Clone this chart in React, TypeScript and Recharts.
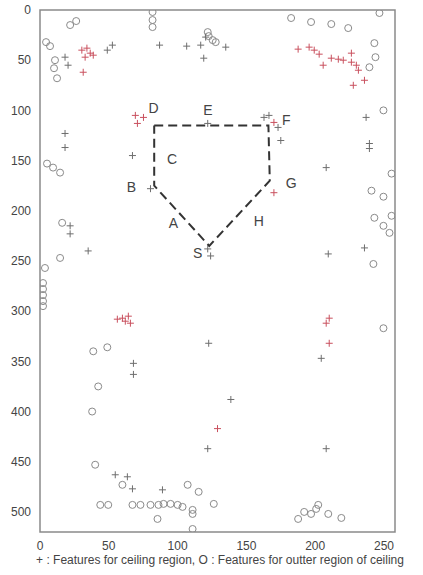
import { ScatterChart, Scatter, XAxis, YAxis, ReferenceArea } from 'recharts'

// features for ceiling region (drawn red)
const redPlus = [
  { x: 30.4, y: 40 }, { x: 34.1, y: 38 }, { x: 36.5, y: 43 }, { x: 38.7, y: 45 }, { x: 32.8, y: 47 },
  { x: 31.4, y: 62 }, { x: 187.6, y: 39 }, { x: 195.6, y: 37 }, { x: 199.3, y: 40 }, { x: 202.9, y: 44 },
  { x: 205.8, y: 55 }, { x: 211.7, y: 48 }, { x: 216.8, y: 49 }, { x: 220.4, y: 50 }, { x: 226.3, y: 43 },
  { x: 226.3, y: 52 }, { x: 229.9, y: 55 }, { x: 231.4, y: 60 }, { x: 235.8, y: 70 }, { x: 227.7, y: 75 },
  { x: 69.3, y: 105 }, { x: 70.8, y: 113 }, { x: 75.2, y: 107 }, { x: 170, y: 112 }, { x: 170, y: 182 },
  { x: 56.2, y: 308 }, { x: 59.9, y: 307 }, { x: 64.2, y: 305 }, { x: 65.7, y: 312 }, { x: 62, y: 310 },
  { x: 210.2, y: 307 }, { x: 208, y: 312 }, { x: 210.2, y: 332 }, { x: 129, y: 417 },
]

// features for ceiling region (drawn grey)
const grayPlus = [
  { x: 18.2, y: 47 }, { x: 20.4, y: 55 }, { x: 48.9, y: 40 }, { x: 52.6, y: 35 }, { x: 86.9, y: 35 },
  { x: 106.6, y: 36 }, { x: 120.4, y: 27 }, { x: 116.8, y: 35 }, { x: 135, y: 37 }, { x: 119, y: 48 },
  { x: 18.2, y: 123 }, { x: 18.2, y: 137 }, { x: 67.2, y: 145 }, { x: 80.3, y: 178 }, { x: 162.8, y: 107 },
  { x: 166.4, y: 105 }, { x: 173, y: 117 }, { x: 175, y: 130 }, { x: 121.9, y: 238 }, { x: 124, y: 245 },
  { x: 121.9, y: 113 }, { x: 21.9, y: 215 }, { x: 21.9, y: 223 }, { x: 35, y: 240 }, { x: 237, y: 107 },
  { x: 239.4, y: 133 }, { x: 239.4, y: 138 }, { x: 208, y: 157 }, { x: 209.5, y: 243 }, { x: 235.8, y: 237 },
  { x: 122.6, y: 332 }, { x: 204.4, y: 347 }, { x: 67.9, y: 352 }, { x: 67.9, y: 363 }, { x: 138.7, y: 388 },
  { x: 121.9, y: 437 }, { x: 208, y: 437 }, { x: 54.7, y: 463 }, { x: 63.5, y: 465 }, { x: 67.2, y: 477 },
  { x: 89, y: 478 },
]

// features for outer region of ceiling
const outerCircles = [
  { x: 21.9, y: 15 }, { x: 26.3, y: 11 }, { x: 4.4, y: 32 }, { x: 7.3, y: 36 }, { x: 10.9, y: 50 },
  { x: 10.2, y: 58 }, { x: 12.4, y: 68 }, { x: 81.8, y: 2 }, { x: 81.8, y: 10 }, { x: 81.8, y: 17 },
  { x: 121.9, y: 22 }, { x: 122.6, y: 26 }, { x: 125.5, y: 30 }, { x: 127.7, y: 32 }, { x: 182.5, y: 8 },
  { x: 197, y: 12 }, { x: 211.7, y: 14 }, { x: 224, y: 18 }, { x: 246.7, y: 3 }, { x: 243, y: 33 },
  { x: 243.8, y: 47 }, { x: 239.4, y: 57 }, { x: 249.6, y: 100 }, { x: 255.5, y: 163 }, { x: 240.9, y: 180 },
  { x: 249.6, y: 186 }, { x: 243, y: 207 }, { x: 255.5, y: 205 }, { x: 249.6, y: 215 }, { x: 254, y: 222 },
  { x: 242.3, y: 253 }, { x: 249.6, y: 317 }, { x: 5.1, y: 153 }, { x: 9.5, y: 157 }, { x: 14.6, y: 162 },
  { x: 16.1, y: 212 }, { x: 14.6, y: 247 }, { x: 3.6, y: 257 }, { x: 2.2, y: 272 }, { x: 2.2, y: 278 },
  { x: 2.2, y: 284 }, { x: 2.2, y: 290 }, { x: 2.2, y: 295 }, { x: 38.7, y: 340 }, { x: 48.9, y: 336 },
  { x: 42.3, y: 375 }, { x: 37.9, y: 400 }, { x: 40.1, y: 453 }, { x: 59.9, y: 473 }, { x: 43.8, y: 493 },
  { x: 49.6, y: 493 }, { x: 67.2, y: 493 }, { x: 73, y: 493 }, { x: 80.3, y: 493 }, { x: 86.1, y: 493 },
  { x: 89.8, y: 492 }, { x: 94.9, y: 492 }, { x: 100, y: 493 }, { x: 103.6, y: 495 }, { x: 85.4, y: 507 },
  { x: 107.3, y: 473 }, { x: 115.3, y: 480 }, { x: 110.9, y: 498 }, { x: 110.9, y: 502 }, { x: 110.9, y: 517 },
  { x: 126.3, y: 492 }, { x: 187.6, y: 507 }, { x: 192, y: 500 }, { x: 197, y: 502 }, { x: 200.7, y: 497 },
  { x: 202.2, y: 493 }, { x: 209.5, y: 502 }, { x: 219, y: 506 },
]

// dashed route D -> F -> G -> S -> B -> D
const routePoints = [
  { x: 83, y: 115 }, { x: 166, y: 115 }, { x: 167, y: 170 }, { x: 123, y: 235 }, { x: 83, y: 175 }, { x: 83, y: 115 },
]

const routeLabels = [
  { x: 82.5, y: 98, label: 'D' }, { x: 122, y: 100, label: 'E' }, { x: 179, y: 110, label: 'F' },
  { x: 96, y: 148, label: 'C' }, { x: 66.4, y: 176, label: 'B' }, { x: 97, y: 212, label: 'A' },
  { x: 114.6, y: 242, label: 'S' }, { x: 159, y: 210, label: 'H' }, { x: 182.5, y: 172, label: 'G' },
]

const xTicks = [0, 50, 100, 150, 200, 250]
const yTicks = [0, 50, 100, 150, 200, 250, 300, 350, 400, 450, 500]

const xDomain = [0, 258]
const yDomain = [0, 520]
const axisColor = '#8a8a8a'
const font = 'Liberation Sans, Arial, sans-serif'

const plusShape = (color: string) => (props: any) => {
  const { cx, cy } = props
  const s = 3.5
  return (
    <g stroke={color} strokeWidth={1}>
      <line x1={cx - s} x2={cx + s} y1={cy} y2={cy} />
      <line x1={cx} x2={cx} y1={cy - s} y2={cy + s} />
    </g>
  )
}

const circleShape = (props: any) => (
  <circle cx={props.cx} cy={props.cy} r={3.5} fill="none" stroke="#8a8a8a" strokeWidth={1} />
)

const labelShape = (props: any) => (
  <text x={props.cx} y={props.cy} textAnchor="middle" dominantBaseline="central" fontSize={14} fontFamily={font} fill="#444">
    {props.payload.label}
  </text>
)

export default function App() {
  const tickStyle = { fontSize: 12, fill: '#444', fontFamily: font }
  return (
    <div style={{ position: 'absolute', left: 0, top: 0, width: 423, height: 575, background: '#fff' }}>
      <ScatterChart width={423} height={575} margin={{ top: 10, right: 28, bottom: 23, left: 8 }}>
        <XAxis type="number" dataKey="x" domain={xDomain} ticks={xTicks} allowDataOverflow
          height={20} axisLine={false} tickLine={false} tickMargin={3} tick={tickStyle} />
        <XAxis xAxisId="inner" type="number" dataKey="x" domain={xDomain} ticks={xTicks} allowDataOverflow
          height={0} mirror tick={false} tickSize={4} stroke={axisColor} axisLine={false} />
        <XAxis xAxisId="top" orientation="top" type="number" dataKey="x" domain={xDomain} ticks={xTicks} allowDataOverflow
          height={0} mirror tick={false} tickSize={4} stroke={axisColor} axisLine={false} />
        <YAxis type="number" dataKey="y" domain={yDomain} ticks={yTicks} reversed allowDataOverflow
          width={32} axisLine={false} tickLine={false} tickMargin={3} tick={tickStyle} />
        <YAxis yAxisId="inner" type="number" dataKey="y" domain={yDomain} ticks={yTicks} reversed allowDataOverflow
          width={0} mirror tick={false} tickSize={4} stroke={axisColor} axisLine={false} />
        <YAxis yAxisId="right" orientation="right" type="number" dataKey="y" domain={yDomain} ticks={yTicks} reversed allowDataOverflow
          width={0} mirror tick={false} tickSize={4} stroke={axisColor} axisLine={false} />
        <ReferenceArea x1={xDomain[0]} x2={xDomain[1]} y1={yDomain[0]} y2={yDomain[1]}
          fill="none" fillOpacity={0} stroke={axisColor} strokeWidth={1.5} />
        <Scatter data={outerCircles} shape={circleShape} isAnimationActive={false} />
        <Scatter data={grayPlus} shape={plusShape('#6e6e6e')} isAnimationActive={false} />
        <Scatter data={redPlus} shape={plusShape('#c9505e')} isAnimationActive={false} />
        <Scatter
          data={routePoints}
          xAxisId="top"
          yAxisId="right"
          line={{ stroke: '#333', strokeWidth: 2, strokeDasharray: '9 5' }}
          lineType="joint"
          shape={() => <g />}
          isAnimationActive={false}
        />
        <Scatter data={routeLabels} xAxisId="inner" yAxisId="inner" shape={labelShape} isAnimationActive={false} />
      </ScatterChart>
      <div
        style={{
          position: 'absolute', left: 20, top: 553, width: 400, textAlign: 'center',
          fontSize: 12, color: '#444', fontFamily: font, whiteSpace: 'nowrap',
        }}
      >
        + : Features for ceiling region, O : Features for outter region of ceiling
      </div>
    </div>
  )
}
